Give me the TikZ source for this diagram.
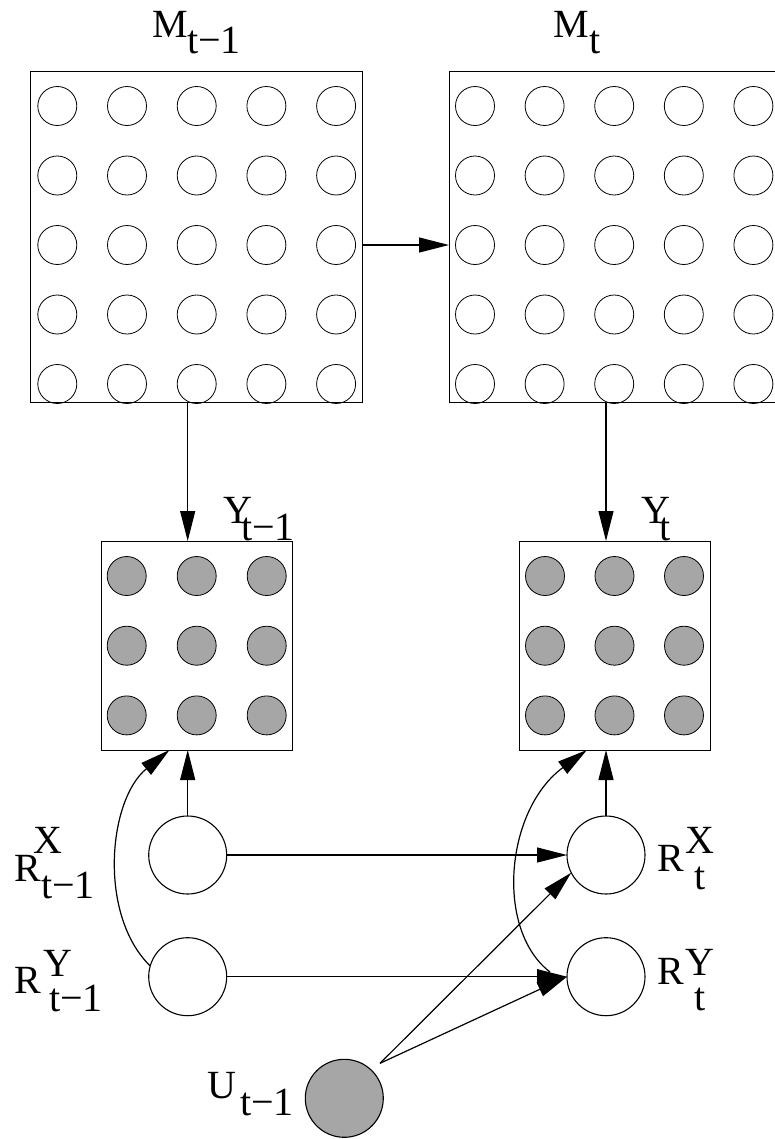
\documentclass[tikz,border=0pt]{standalone}
\usepackage{fontspec}
\setmainfont{Liberation Serif}
\newfontfamily\lblfont{Liberation Serif}
\usetikzlibrary{arrows.meta,calc}
\begin{document}
\begin{tikzpicture}[x=1bp,y=-1bp,
  box/.style={draw,line width=1bp,rectangle,inner sep=0pt,outer sep=0pt},
  cell/.style={draw,line width=0.8bp,circle,inner sep=0pt,outer sep=0pt,minimum size=39bp},
  obs/.style={cell,fill=obsgray},
  big/.style={draw,line width=1.1bp,circle,inner sep=0pt,outer sep=0pt,minimum size=78bp},
  lbl/.style={anchor=base west,inner sep=0pt,outer sep=0pt,font={\lblfont\fontsize{40bp}{44bp}\selectfont}},
  arr/.style={line width=1.2bp,-{Triangle[length=30bp,width=15bp]}}]
\definecolor{obsgray}{RGB}{166,166,166}
\useasboundingbox (0,0) rectangle (775,1139);

% boxes
\node[box,minimum width=331bp,minimum height=331bp] (M1) at (196.5,236.5) {};
\node[box,minimum width=331bp,minimum height=331bp] (M2) at (614.5,236.5) {};
\node[box,minimum width=191bp,minimum height=209bp] (Y1) at (196.7,645.5) {};
\node[box,minimum width=191bp,minimum height=209bp] (Y2) at (614.7,645.5) {};

% grids of M
\foreach \i/\xa/\xb in {1/57.3/475,2/127/544.6,3/196.7/614.2,4/266.4/683.8,5/336.1/753.4}{
  \foreach \j/\yy in {1/106,2/175.5,3/245,4/314.5,5/384}{
    \node[cell] (a\j\i) at (\xa,\yy) {};
    \node[cell] (b\j\i) at (\xb,\yy) {};
  }
}
% grids of Y
\foreach \i/\xa/\xb in {1/126.7/545,2/196.7/614.5,3/266.7/684}{
  \foreach \j/\yy in {1/576,2/645.7,3/715.4}{
    \node[obs] (p\j\i) at (\xa,\yy) {};
    \node[obs] (q\j\i) at (\xb,\yy) {};
  }
}

% R and U nodes
\node[big] (R1x) at (187.7,855) {};
\node[big] (R1y) at (187.7,976.7) {};
\node[big] (R2x) at (606,855) {};
\node[big] (R2y) at (606,976.7) {};
\node[big,fill=obsgray] (U) at (344.3,1098.3) {};
\coordinate (ustart) at (380,1063.3);
\coordinate (cend) at (550,972);

% labels
\node[lbl] (lM1) at (152,37) {M};
\node[lbl] (lM1s) at (187,53) {t−1};
\node[lbl] (lM2) at (553,37) {M};
\node[lbl] (lM2s) at (589,53) {t};
\node[lbl] (lY1) at (223,523) {Y};
\node[lbl] (lY1s) at (241,540) {t−1};
\node[lbl] (lY2) at (641,523) {Y};
\node[lbl] (lY2s) at (659,540) {t};
\node[lbl] (lR1x) at (14,881) {R};
\node[lbl] (lR1xp) at (33,853) {X};
\node[lbl] (lR1xs) at (41,898) {t−1};
\node[lbl] (lR1y) at (14,993) {R};
\node[lbl] (lR1yp) at (43,976.7) {Y};
\node[lbl] (lR1ys) at (49,1011.7) {t−1};
\node[lbl] (lR2x) at (657,871.7) {R};
\node[lbl] (lR2xp) at (685,853.3) {X};
\node[lbl] (lR2xs) at (694,889.3) {t};
\node[lbl] (lR2y) at (657,984) {R};
\node[lbl] (lR2yp) at (685,975) {Y};
\node[lbl] (lR2ys) at (694,1010.7) {t};
\node[lbl] (lU) at (207,1098.3) {U};
\node[lbl] (lUs) at (240,1115) {t−1};

% connectors
\draw[arr] (M1.east |- a35) -- (M2.west |- a35);
\draw[arr] (R1x |- M1.south) -- (R1x |- Y1.north);
\draw[arr] (R2x |- M2.south) -- (R2x |- Y2.north);
\draw[arr] (R1x.north) -- (R1x |- Y1.south);
\draw[arr] (R2x.north) -- (R2x |- Y2.south);
\draw[arr] (R1x.east) -- (R2x.west);
\draw[arr] (R1y.east) -- (R2y.west);
\draw[arr] (ustart) -- (R2x.207);
\draw[arr] (ustart) -- (R2y.west);
\draw[arr] (R1y.164) .. controls (98,915) and (108,800) .. ($(Y1.south west)+(68.3,0)$);
\draw[arr] (cend) .. controls (495,930) and (505,810) .. ($(Y2.south west)+(67.7,0)$);
\end{tikzpicture}
\end{document}
